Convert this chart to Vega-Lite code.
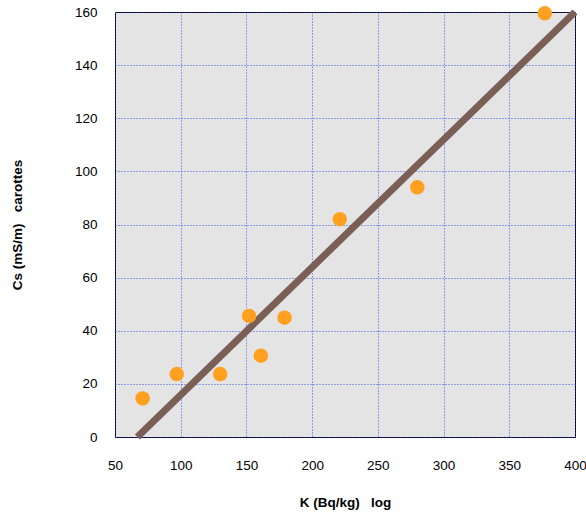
{
  "$schema": "https://vega.github.io/schema/vega-lite/v6.json",
  "width": 460,
  "height": 425,
  "autosize": {"type": "none"},
  "padding": {"left": 115, "top": 12, "right": 11, "bottom": 79},
  "background": "white",
  "config": {
    "font": "Liberation Sans",
    "view": {"fill": "#e3e4e3", "stroke": "#000000", "strokeWidth": 1},
    "axis": {
      "domain": false,
      "ticks": false,
      "grid": true,
      "gridColor": "#2b3cf0",
      "gridDash": [1, 2],
      "gridWidth": 1,
      "gridOpacity": 0.9,
      "labelFlush": false,
      "labelFont": "Liberation Sans",
      "labelFontSize": 13.5,
      "labelColor": "#000000",
      "titleFont": "Liberation Sans",
      "titleFontSize": 13.5,
      "titleFontWeight": "bold",
      "titleColor": "#000000"
    }
  },
  "datasets": {
    "pts": [
      {"K": 71, "Cs": 14.5},
      {"K": 97, "Cs": 23.7},
      {"K": 130, "Cs": 23.7},
      {"K": 152, "Cs": 45.6},
      {"K": 161, "Cs": 30.6},
      {"K": 179, "Cs": 44.9},
      {"K": 221, "Cs": 82},
      {"K": 280, "Cs": 94},
      {"K": 377, "Cs": 159.5}
    ],
    "fit": [
      {"K": 67, "Cs": 0},
      {"K": 400, "Cs": 160}
    ]
  },
  "layer": [
    {
      "data": {"name": "fit"},
      "mark": {"type": "line", "color": "#7a5f57", "strokeWidth": 7, "strokeCap": "butt"},
      "encoding": {
        "x": {"field": "K", "type": "quantitative",
              "scale": {"domain": [50, 400], "nice": false, "zero": false},
              "axis": {"values": [50,100,150,200,250,300,350,400], "labelPadding": 21,
                       "title": "K (Bq/kg)\u00a0\u00a0\u00a0log", "titlePadding": 24}},
        "y": {"field": "Cs", "type": "quantitative",
              "scale": {"domain": [0, 160], "nice": false},
              "axis": {"values": [0,20,40,60,80,100,120,140,160], "labelPadding": 18,
                       "title": "Cs (mS/m)\u00a0\u00a0\u00a0carottes", "titlePadding": 50}}
      }
    },
    {
      "data": {"name": "pts"},
      "mark": {"type": "circle", "color": "#ffa020", "opacity": 1, "size": 210, "clip": false},
      "encoding": {
        "x": {"field": "K", "type": "quantitative"},
        "y": {"field": "Cs", "type": "quantitative"}
      }
    }
  ]
}
